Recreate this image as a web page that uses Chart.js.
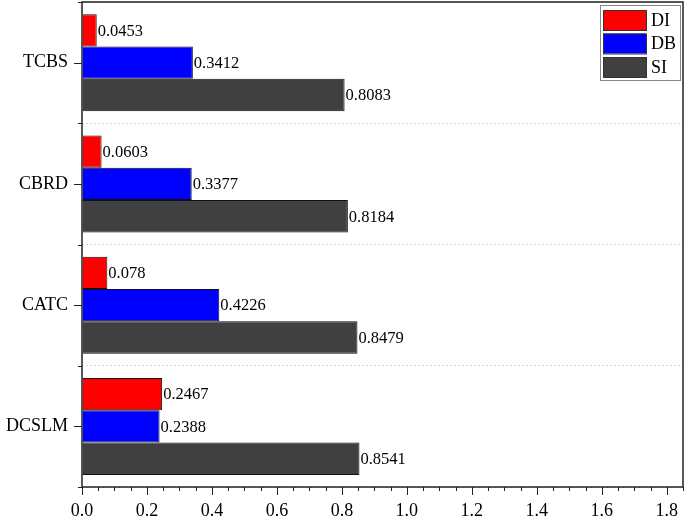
<!DOCTYPE html>
<html>
<head>
<meta charset="utf-8">
<script src="https://cdn.jsdelivr.net/npm/chart.js@4.4.1/dist/chart.umd.min.js"></script>
<style>
  html, body { margin: 0; padding: 0; background: #fff; }
  #wrap { width: 685px; height: 520px; }
</style>
</head>
<body>
<div id="wrap"><canvas id="chart"></canvas></div>
<script>
const categories = ['TCBS', 'CBRD', 'CATC', 'DCSLM']
const seriesNames = ['DI', 'DB', 'SI']
const diValues = [0.0453, 0.0603, 0.078, 0.2467]
const dbValues = [0.3412, 0.3377, 0.4226, 0.2388]
const siValues = [0.8083, 0.8184, 0.8479, 0.8541]
const seriesColors = ['#FF0000', '#0000FF', '#404040']
const xMax = 1.85
const serif = '"Liberation Serif", "Times New Roman", serif'

Chart.defaults.font.family = serif
Chart.defaults.color = '#000'

// frame around the plot + outward tick marks (major/minor)
const frameTicks = {
  id: 'frameTicks',
  afterDraw(chart) {
    const { ctx, chartArea: a, scales: { x, y } } = chart
    ctx.save()
    ctx.strokeStyle = '#222'
    ctx.lineWidth = 1
    ctx.beginPath()
    for (let i = 0; i * 0.05 <= xMax + 1e-9; i++) {
      const px = Math.round(x.getPixelForValue(i * 0.05)) + 0.5
      const len = i % 4 === 0 ? 8 : 4
      ctx.moveTo(px, a.bottom)
      ctx.lineTo(px, a.bottom + len)
    }
    const step = (y.getPixelForValue(1) - y.getPixelForValue(0))
    categories.forEach((c, i) => {
      const cy = Math.round(y.getPixelForValue(i)) + 0.5
      ctx.moveTo(a.left, cy); ctx.lineTo(a.left - 8, cy)
      const by = Math.round(y.getPixelForValue(i) - step / 2) + 0.5
      ctx.moveTo(a.left, by); ctx.lineTo(a.left - 4, by)
    })
    const last = Math.round(y.getPixelForValue(categories.length - 1) + step / 2) + 0.5
    ctx.moveTo(a.left, last); ctx.lineTo(a.left - 4, last)
    ctx.stroke()
    ctx.lineWidth = 1.5
    ctx.strokeRect(a.left, a.top, a.right - a.left, a.bottom - a.top)
    ctx.restore()
  }
}

// value labels at bar ends
const valueLabels = {
  id: 'valueLabels',
  afterDatasetsDraw(chart) {
    const { ctx } = chart
    ctx.save()
    ctx.font = '16.5px ' + serif
    ctx.fillStyle = '#000'
    ctx.textBaseline = 'middle'
    ctx.textAlign = 'left'
    chart.data.datasets.forEach((ds, di) => {
      chart.getDatasetMeta(di).data.forEach((bar, i) => {
        ctx.fillText(String(ds.data[i]), bar.x + 1, bar.y + 1)
      })
    })
    ctx.restore()
  }
}

// boxed legend in the top right corner
const boxLegend = {
  id: 'boxLegend',
  afterDraw(chart) {
    const { ctx, chartArea: a } = chart
    const bx = a.right - 83, by = a.top + 3, bw = 80, bh = 75
    ctx.save()
    ctx.fillStyle = '#fff'
    ctx.fillRect(bx, by, bw, bh)
    ctx.strokeStyle = '#888'
    ctx.lineWidth = 1
    ctx.strokeRect(bx + 0.5, by + 0.5, bw, bh)
    ctx.font = '18px ' + serif
    ctx.textBaseline = 'middle'
    chart.data.datasets.forEach((ds, i) => {
      const sy = by + 5 + i * 23.5
      ctx.fillStyle = ds.backgroundColor
      ctx.fillRect(bx + 3, sy, 43, 20)
      ctx.strokeStyle = '#333'
      ctx.strokeRect(bx + 3.5, sy + 0.5, 43, 20)
      ctx.fillStyle = '#000'
      ctx.fillText(ds.label, bx + 51, sy + 11)
    })
    ctx.restore()
  }
}

const datasets = [diValues, dbValues, siValues].map((values, i) => ({
  label: seriesNames[i],
  data: values,
  backgroundColor: seriesColors[i],
  borderColor: '#111',
  borderWidth: 1,
  categoryPercentage: 0.8,
  barPercentage: 1
}))

new Chart(document.getElementById('chart'), {
  type: 'bar',
  data: { labels: categories, datasets },
  options: {
    indexAxis: 'y',
    responsive: true,
    maintainAspectRatio: false,
    animation: false,
    layout: { padding: { top: 2, right: 2, left: 0, bottom: 0 } },
    plugins: { legend: { display: false }, tooltip: { enabled: false } },
    scales: {
      x: {
        type: 'linear',
        min: 0,
        max: xMax,
        ticks: {
          stepSize: 0.2,
          includeBounds: false,
          padding: 13,
          font: { size: 18, family: serif },
          color: '#000',
          callback: v => (+v).toFixed(1)
        },
        grid: { display: true, drawOnChartArea: false, drawTicks: false },
        border: { display: false },
        afterFit: s => { s.height = 33; s.paddingLeft = 0; s.paddingRight = 0 }
      },
      y: {
        type: 'category',
        offset: true,
        ticks: { padding: 14, font: { size: 18, family: serif }, color: '#000' },
        grid: { offset: true, drawTicks: false, color: '#d9d9d9', lineWidth: 1 },
        border: { display: false, dash: [2, 2] },
        afterFit: s => { s.width = 82; s.paddingTop = 0; s.paddingBottom = 0 }
      }
    }
  },
  plugins: [frameTicks, valueLabels, boxLegend]
})
</script>
</body>
</html>
